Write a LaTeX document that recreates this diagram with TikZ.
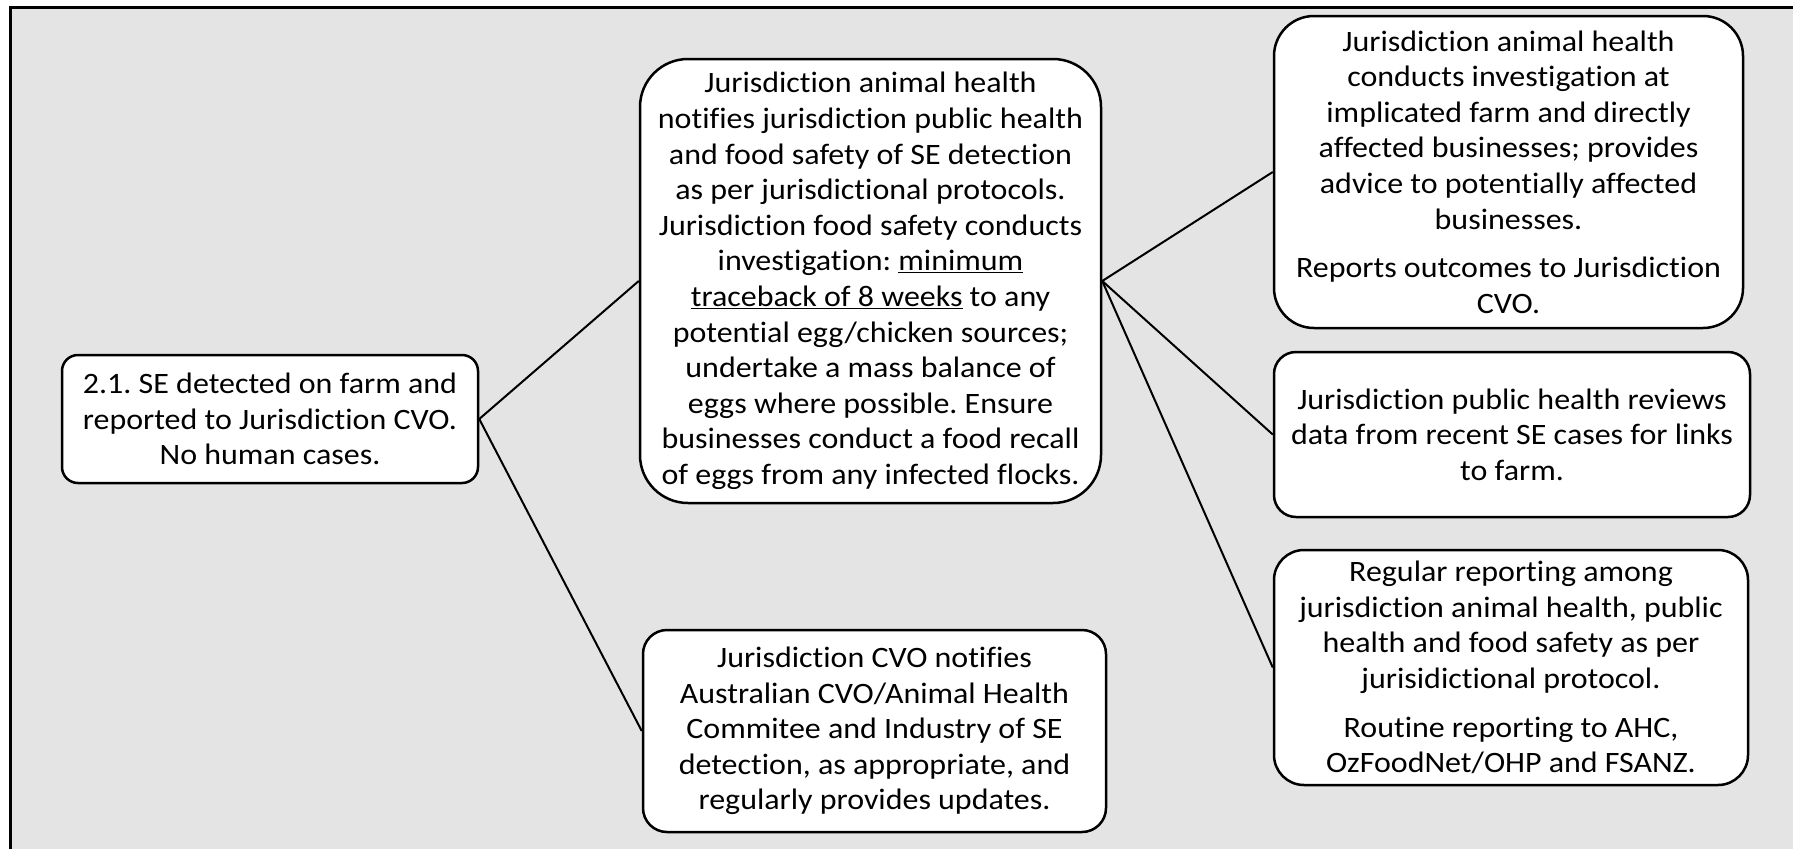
\documentclass[tikz,border=0pt]{standalone}
\usepackage{fontspec}
\setmainfont[FakeStretch=1.08, Ligatures={NoCommon}]{Carlito}
\definecolor{bgc}{RGB}{228,228,228}
\frenchspacing
\begin{document}
\begin{tikzpicture}[x=1pt,y=-1pt,
  box/.style={draw=black, fill=white, line width=2.5pt, align=center, inner sep=0pt,
    font=\fontsize{29.6}{35.6}\selectfont\frenchspacing},
  link/.style={line width=2pt, draw=black}]
\useasboundingbox (0,0) rectangle (1793,849);
\fill[bgc] (10.7,7.5) rectangle (1793,849);
\draw[line width=2.5pt] (10.7,849) -- (10.7,7.5) -- (1793,7.5);

\node[box, rounded corners=16pt, minimum width=416pt, minimum height=128pt] (a) at (270,419)
  {2.1. SE detected on farm and\\reported to Jurisdiction CVO.\\No human cases.};

\node[box, rounded corners=48pt, minimum width=461pt, minimum height=444pt] (b) at (870.5,281)
  {Jurisdiction animal health\\notifies jurisdiction public health\\and food safety of SE detection\\as per jurisdictional protocols.\\Jurisdiction food safety conducts\\investigation: \underline{minimum}\\\underline{traceback of 8 weeks} to any\\potential egg/chicken sources;\\undertake a mass balance of\\eggs where possible. Ensure\\businesses conduct a food recall\\of eggs from any infected flocks.};

\node[box, rounded corners=24pt, minimum width=463pt, minimum height=202pt] (c) at (874.5,731)
  {Jurisdiction CVO notifies\\Australian CVO/Animal Health\\Commitee and Industry of SE\\detection, as appropriate, and\\regularly provides updates.};

\node[box, rounded corners=40pt, minimum width=469pt, minimum height=312pt] (d) at (1508.5,172)
  {Jurisdiction animal health\\conducts investigation at\\implicated farm and directly\\affected businesses; provides\\advice to potentially affected\\businesses.\\[13pt]Reports outcomes to Jurisdiction\\CVO.};

\node[box, rounded corners=22pt, minimum width=476pt, minimum height=165pt] (e) at (1512,434.5)
  {Jurisdiction public health reviews\\data from recent SE cases for links\\to farm.};

\node[box, rounded corners=30pt, minimum width=474pt, minimum height=235pt] (f) at (1511,667.5)
  {Regular reporting among\\jurisdiction animal health, public\\health and food safety as per\\jurisidictional protocol.\\[13pt]Routine reporting to AHC,\\OzFoodNet/OHP and FSANZ.};

\draw[link] (a.east) -- (b.west);
\draw[link] (a.east) -- (c.west);
\draw[link] (b.east) -- (d.west);
\draw[link] (b.east) -- (e.west);
\draw[link] (b.east) -- (f.west);
\end{tikzpicture}
\end{document}
